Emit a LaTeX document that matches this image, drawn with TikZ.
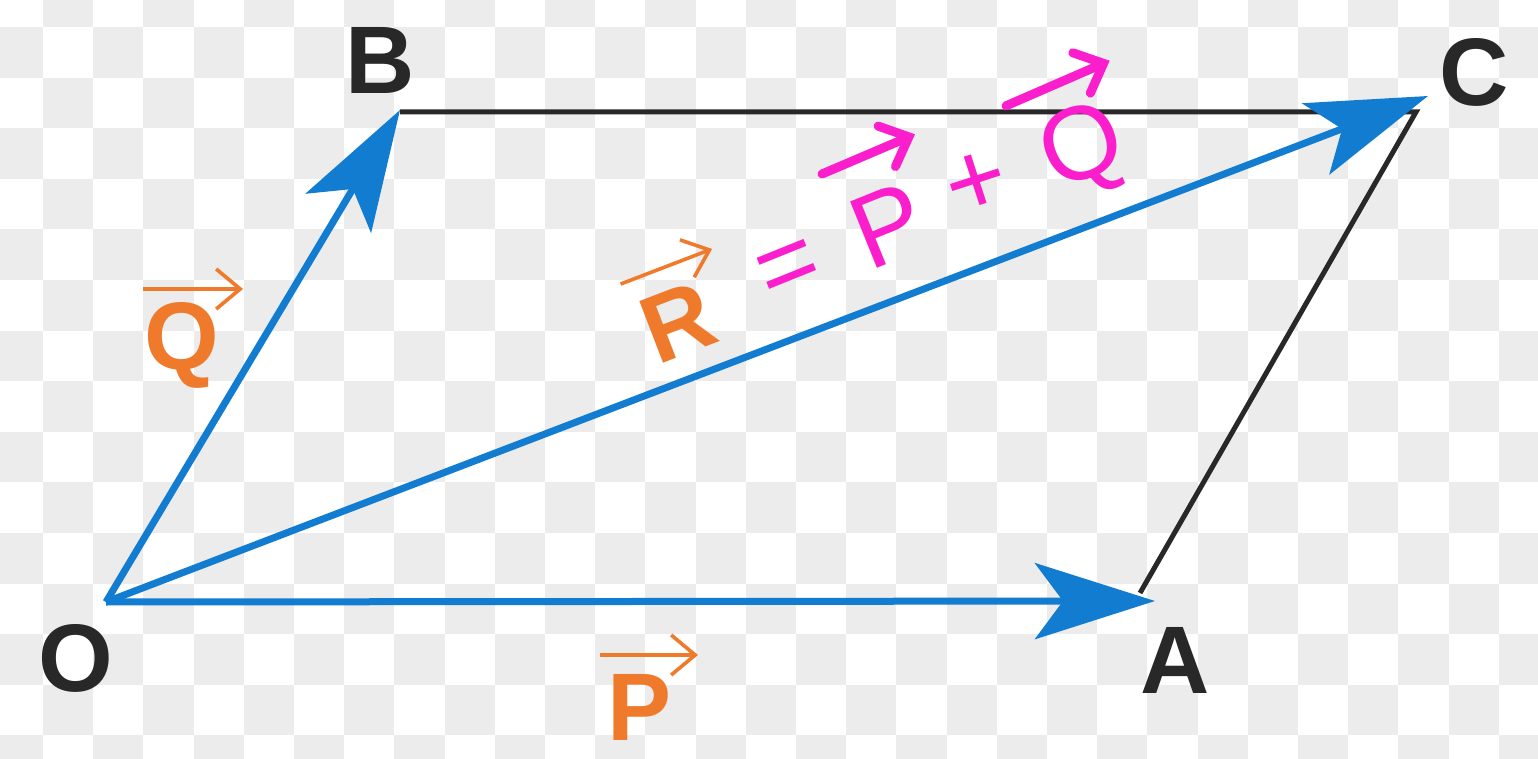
\documentclass[tikz,border=0pt]{standalone}
\usepackage{fontspec}
\setmainfont{Liberation Sans}
\usetikzlibrary{arrows.meta}
\definecolor{vblue}{RGB}{18,124,208}
\definecolor{vorange}{RGB}{240,122,44}
\definecolor{vpink}{RGB}{250,30,205}
\definecolor{vgrid}{RGB}{236,236,236}
\definecolor{vblack}{RGB}{40,40,40}
\begin{document}
\begin{tikzpicture}[x=0.5pt,y=-0.5pt,
  vec/.style={draw=vblue, line width=3.5pt, -{Stealth[length=60pt,width=38pt,inset=14pt]}},
  side/.style={draw=vblack, line width=2.5pt, line join=miter},
  ptlabel/.style={font=\bfseries\fontsize{48}{48}\selectfont, text=vblack, inner sep=0pt},
  veclabel/.style={font=\bfseries\fontsize{48}{48}\selectfont, text=vorange, inner sep=0pt},
  labarrow/.style={draw=vorange, line width=1.8pt, -{Straight Barb[length=12pt,width=20pt]}},
  hand/.style={font=\fontsize{52}{52}\selectfont, text=vpink, inner sep=0pt},
  handarrow/.style={draw=vpink, line width=4.5pt, line cap=round, -{Straight Barb[length=12pt,width=22pt,line cap=round]}}
]
\useasboundingbox (0,0) rectangle (1538,759);
\clip (0,0) rectangle (1538,759);
\fill[white] (0,0) rectangle (1538,759);
% checkerboard background
\foreach \i in {0,...,31} {
  \foreach \j in {0,...,15} {
    \pgfmathtruncatemacro{\cellparity}{mod(\i+\j,2)}
    \ifnum\cellparity=1
      \fill[vgrid] (-7.2+50.2*\i,-23.6+50.6*\j) rectangle ++(50.2,50.6);
    \fi
  }
}
% vertices
\coordinate (O) at (106,602);
\coordinate (A) at (1155,601);
\coordinate (B) at (400,110);
\coordinate (C) at (1428,96);
\coordinate (Bc) at (400,112);
\coordinate (Cc) at (1416,112);
\coordinate (Ac) at (1140,593);
% black sides
\draw[side] (Bc) -- (Cc) -- (Ac);
% blue vectors
\draw[vec] (O) -- (A);
\draw[vec] (O) -- (B);
\draw[vec] (O) -- (C);
% point labels
\node[ptlabel] (lB) at (380,60) {B};
\node[ptlabel] (lC) at (1474,72) {C};
\node[ptlabel] (lO) at (76,658) {O};
\node[ptlabel] (lA) at (1175,660) {A};
% vector labels
\begin{scope}[shift={(640,707)}]
  \node[veclabel] (lP) at (0,0) {P};
  \coordinate (Pa1) at (-40,-52);
  \coordinate (Pa2) at (58,-52);
  \draw[labarrow] (Pa1) -- (Pa2);
\end{scope}
\begin{scope}[shift={(182,345)}]
  \node[veclabel] (lQ) at (0,0) {Q};
  \coordinate (Qa1) at (-39,-56);
  \coordinate (Qa2) at (61,-56);
  \draw[labarrow] (Qa1) -- (Qa2);
\end{scope}
\begin{scope}[shift={(678,322)}, rotate=21, transform shape]
  \node[veclabel] (lR) at (0,0) {R};
  \coordinate (Ra1) at (-40,-56);
  \coordinate (Ra2) at (58,-56);
  \draw[labarrow] (Ra1) -- (Ra2);
\end{scope}
% handwritten annotation
\begin{scope}[shift={(790,272)}, rotate=22, transform shape]
  \node[hand] (hEq) at (0,0) {=};
\end{scope}
\begin{scope}[shift={(888,225)}, rotate=22, transform shape]
  \node[hand] (hP) at (0,0) {P};
  \coordinate (hPa1) at (-42,-72);
  \coordinate (hPa2) at (59,-74);
  \draw[handarrow] (hPa1) -- (hPa2);
\end{scope}
\begin{scope}[shift={(977,185)}, rotate=18, transform shape]
  \node[hand] (hPlus) at (0,0) {+};
\end{scope}
\begin{scope}[shift={(1084,152)}, rotate=22, transform shape]
  \node[hand] (hQ) at (0,0) {Q};
  \coordinate (hQa1) at (-55,-72);
  \coordinate (hQa2) at (58,-75);
  \draw[handarrow] (hQa1) -- (hQa2);
\end{scope}
\end{tikzpicture}
\end{document}
